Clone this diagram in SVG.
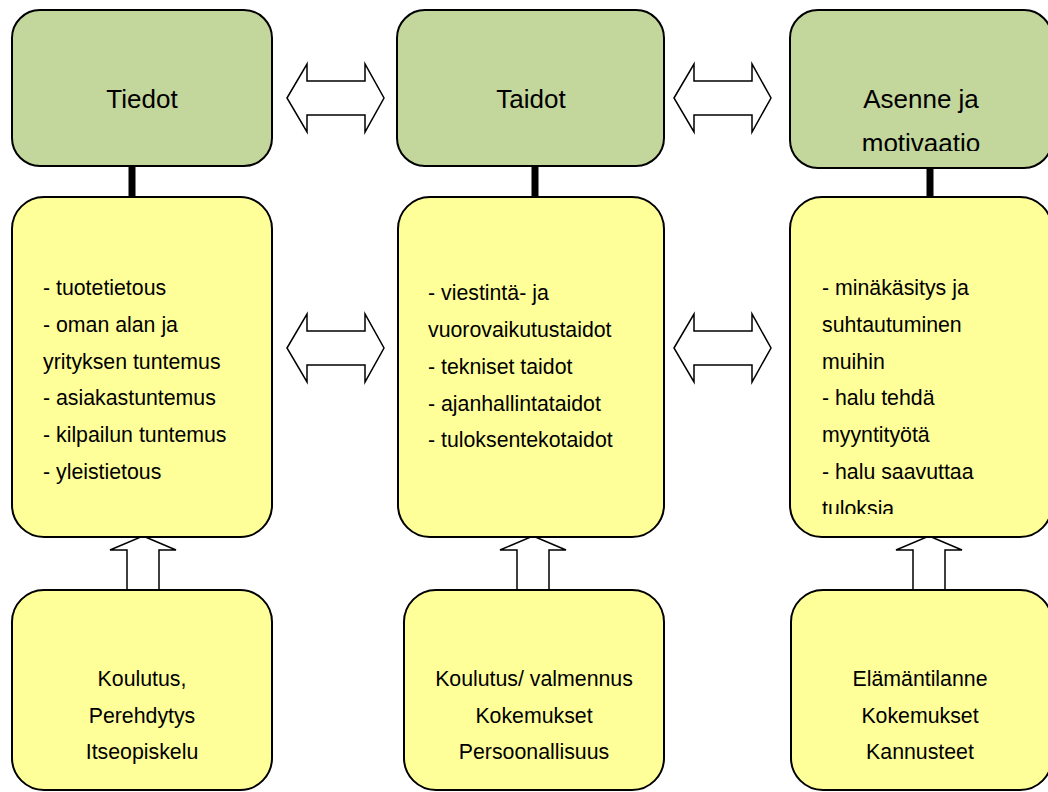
<svg xmlns="http://www.w3.org/2000/svg" width="1048" height="792" viewBox="0 0 1048 792">
  <style>
    .head { fill: #C3D69B; stroke: #000; stroke-width: 2; }
    .body { fill: #FFFF99; stroke: #000; stroke-width: 2; }
    .arrow { fill: #FFFFFF; stroke: #000; stroke-width: 1.5; stroke-linejoin: miter; }
    .link { stroke: #000; stroke-width: 7; }
    .title { font-family: "Liberation Sans", Arial, sans-serif; font-size: 26px; fill: #000; text-anchor: middle; }
    .txt { font-family: "Liberation Sans", Arial, sans-serif; font-size: 21.3px; fill: #000; }
    .mid { text-anchor: middle; }
  </style>
  <defs>
    <!-- horizontal double arrow, tips at x=0 and x=97, centred on y=0 -->
    <path id="dbl" d="M0,0 L20,-34 L20,-17 L78,-17 L78,-34 L97,0 L78,34 L78,17 L20,17 L20,34 Z"/>
    <!-- upward block arrow, tip at (0,0) -->
    <path id="up" d="M0,0 L33,14 L16,14 L16,54 L-16,54 L-16,14 L-33,14 Z"/>
    <clipPath id="clipHead3"><rect x="790" y="10" width="262" height="141"/></clipPath>
    <clipPath id="clipBody3"><rect x="790" y="197" width="262" height="317"/></clipPath>
  </defs>

  <!-- connectors -->
  <g id="connectors">
    <line class="link" x1="132" y1="166" x2="132" y2="197"/>
    <line class="link" x1="535" y1="166" x2="535" y2="197"/>
    <line class="link" x1="930" y1="168" x2="930" y2="197"/>
    <use href="#dbl" class="arrow" x="287" y="98"/>
    <use href="#dbl" class="arrow" x="674" y="98"/>
    <use href="#dbl" class="arrow" x="287" y="348"/>
    <use href="#dbl" class="arrow" x="674" y="348"/>
    <use href="#up" class="arrow" x="143" y="536"/>
    <use href="#up" class="arrow" x="533" y="536"/>
    <use href="#up" class="arrow" x="929" y="536"/>
  </g>

  <!-- column 1 -->
  <g id="tiedot">
    <rect class="head" x="12" y="10" width="260" height="156" rx="28"/>
    <text class="title" x="142" y="108">Tiedot</text>
  </g>
  <g id="tiedot-sisalto">
    <rect class="body" x="12" y="197" width="260" height="340" rx="32"/>
    <text class="txt" x="43" y="295">- tuotetietous</text>
    <text class="txt" x="43" y="332">- oman alan ja</text>
    <text class="txt" x="43" y="369">yrityksen tuntemus</text>
    <text class="txt" x="43" y="405">- asiakastuntemus</text>
    <text class="txt" x="43" y="442">- kilpailun tuntemus</text>
    <text class="txt" x="43" y="479">- yleistietous</text>
  </g>
  <g id="tiedot-lahde">
    <rect class="body" x="12" y="590" width="260" height="200" rx="32"/>
    <text class="txt mid" x="142" y="686">Koulutus,</text>
    <text class="txt mid" x="142" y="723">Perehdytys</text>
    <text class="txt mid" x="142" y="759">Itseopiskelu</text>
  </g>

  <!-- column 2 -->
  <g id="taidot">
    <rect class="head" x="397" y="10" width="267" height="156" rx="28"/>
    <text class="title" x="531" y="108">Taidot</text>
  </g>
  <g id="taidot-sisalto">
    <rect class="body" x="398" y="197" width="266" height="340" rx="32"/>
    <text class="txt" x="428" y="300">- viestintä- ja</text>
    <text class="txt" x="428" y="337">vuorovaikutustaidot</text>
    <text class="txt" x="428" y="374">- tekniset taidot</text>
    <text class="txt" x="428" y="411">- ajanhallintataidot</text>
    <text class="txt" x="428" y="447">- tuloksentekotaidot</text>
  </g>
  <g id="taidot-lahde">
    <rect class="body" x="404" y="590" width="260" height="200" rx="32"/>
    <text class="txt mid" x="534" y="686">Koulutus/ valmennus</text>
    <text class="txt mid" x="534" y="723">Kokemukset</text>
    <text class="txt mid" x="534" y="759">Persoonallisuus</text>
  </g>

  <!-- column 3 -->
  <g id="asenne">
    <rect class="head" x="790" y="10" width="262" height="158" rx="28"/>
    <g clip-path="url(#clipHead3)">
      <text class="title" x="921" y="108">Asenne ja</text>
      <text class="title" x="921" y="152">motivaatio</text>
    </g>
  </g>
  <g id="asenne-sisalto">
    <rect class="body" x="790" y="197" width="262" height="340" rx="32"/>
    <g clip-path="url(#clipBody3)">
      <text class="txt" x="822" y="295">- minäkäsitys ja</text>
      <text class="txt" x="822" y="332">suhtautuminen</text>
      <text class="txt" x="822" y="369">muihin</text>
      <text class="txt" x="822" y="405">- halu tehdä</text>
      <text class="txt" x="822" y="442">myyntityötä</text>
      <text class="txt" x="822" y="479">- halu saavuttaa</text>
      <text class="txt" x="822" y="516">tuloksia</text>
    </g>
  </g>
  <g id="asenne-lahde">
    <rect class="body" x="791" y="590" width="261" height="200" rx="32"/>
    <text class="txt mid" x="920" y="686">Elämäntilanne</text>
    <text class="txt mid" x="920" y="723">Kokemukset</text>
    <text class="txt mid" x="920" y="759">Kannusteet</text>
  </g>
</svg>
